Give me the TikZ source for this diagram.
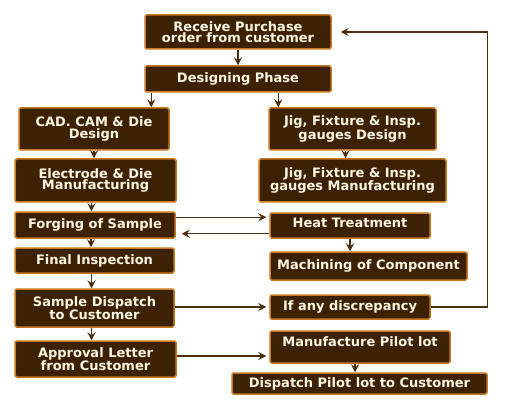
\documentclass[tikz,border=0pt]{standalone}
\usepackage{fontspec}
\setmainfont{DejaVu Sans}
\usetikzlibrary{arrows.meta}
\definecolor{boxfill}{HTML}{3D2103}
\definecolor{boxline}{HTML}{C8781E}
\definecolor{arrline}{HTML}{4B2D0F}
\definecolor{boxtext}{HTML}{FFF6E6}
\begin{document}
\begin{tikzpicture}[x=1pt, y=-1pt,
    box/.style = {draw=boxline, fill=boxfill, line width=1.5pt, rounded corners=1.5pt,
        text=boxtext, font=\fontsize{13}{11.5}\selectfont\bfseries, align=center,
        inner sep=0pt, minimum width=#1},
    arr/.style = {draw=arrline, line width=1.3pt, -{Stealth[length=8pt, width=8pt, inset=3pt]}}]
    \useasboundingbox (0,0) rectangle (511,406);
    \node[box=186pt, minimum height=34pt] (recv) at (238,32) {Receive Purchase\\order from customer};
    \node[box=186pt, minimum height=26pt] (design) at (238,79) {Designing Phase};
    \node[box=150pt, minimum height=42pt] (cad) at (94,129) {CAD. CAM \& Die\\Design};
    \node[box=167pt, minimum height=42pt] (jigd) at (352.5,129) {Jig, Fixture \& Insp.\\gauges Design};
    \node[box=161pt, minimum height=43pt] (elec) at (95.5,180.5) {Electrode \& Die\\Manufacturing};
    \node[box=187pt, minimum height=43pt] (jigm) at (352.5,180.5) {Jig, Fixture \& Insp.\\gauges Manufacturing};
    \node[box=160pt, minimum height=26pt] (forge) at (95,225) {Forging of Sample};
    \node[box=160pt, minimum height=25pt, text depth=5pt] (heat) at (350,225.5) {Heat Treatment};
    \node[box=159pt, minimum height=25pt] (final) at (94.5,260.5) {Final Inspection};
    \node[box=197pt, minimum height=28pt] (mach) at (368.5,266) {Machining of Component};
    \node[box=159pt, minimum height=38pt] (sample) at (94.5,308) {Sample Dispatch\\to Customer};
    \node[box=160pt, minimum height=24pt] (discr) at (350,307) {If any discrepancy};
    \node[box=161pt, minimum height=36pt] (appr) at (95.5,359) {Approval Letter\\from Customer};
    \node[box=180pt, minimum height=32pt, text depth=10pt] (pilot) at (360,347) {Manufacture Pilot lot};
    \node[box=255pt, minimum height=21pt] (disp) at (359.5,383.5) {Dispatch Pilot lot to Customer};

    \draw[arr] (recv.south) -- (design.north);
    \draw[arr] ([xshift=7pt]design.south west) -- ([xshift=7pt]design.south west |- cad.north);
    \draw[arr] ([xshift=10pt]jigd.north west |- design.south) -- ([xshift=10pt]jigd.north west);
    \draw[arr] (cad.south) -- (cad.south |- elec.north);
    \draw[arr] ([xshift=-7pt]jigd.south) -- ([xshift=-7pt]jigd.south |- jigm.north);
    \draw[arr] ([xshift=-4pt]elec.south) -- ([xshift=-4pt]elec.south |- forge.north);
    \draw[arr] ([xshift=-4pt]forge.south) -- ([xshift=-4pt]forge.south |- final.north);
    \draw[arr] ([xshift=-3pt]final.south) -- ([xshift=-3pt]final.south |- sample.north);
    \draw[arr] ([xshift=-3pt]sample.south) -- ([xshift=-3pt]sample.south |- appr.north);
    \draw[arr] (heat.south) -- (heat.south |- mach.north);
    \draw[arr] ([xshift=-5pt]pilot.south) -- ([xshift=-5pt]pilot.south |- disp.north);

    \draw[arr, shorten >=3pt] ([yshift=-6pt]forge.north east) -- ([yshift=-6pt]forge.north east -| heat.west);
    \draw[arr, shorten >=6pt] ([yshift=5pt]heat.south west) -- ([yshift=5pt]heat.south west -| forge.east);
    \draw[arr, shorten >=3pt] (discr.west -| sample.east) -- (discr.west);
    \draw[arr, shorten >=3pt] ([yshift=-9pt]pilot.west -| appr.east) -- ([yshift=-9pt]pilot.west);
    \draw[arr, shorten >=9pt] (discr.east) -- ++(57,0) |- (recv.east);
\end{tikzpicture}
\end{document}
